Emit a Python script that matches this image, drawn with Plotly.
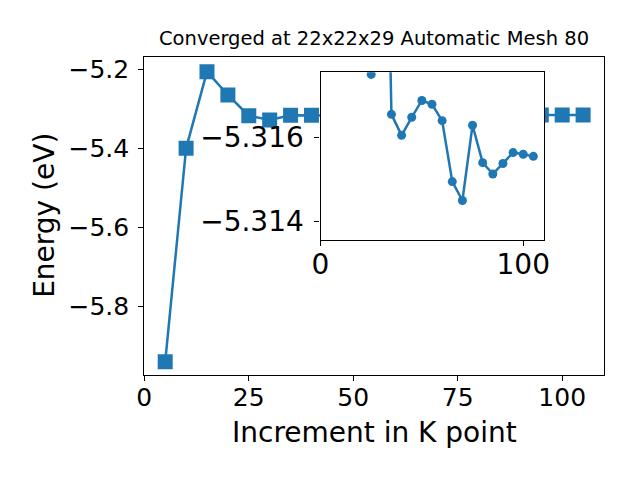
import plotly.graph_objects as go

# Main convergence data
kpoints = [5, 10, 15, 20, 25, 30, 35, 40, 45, 50, 55, 60, 65, 70, 75, 80, 85, 90, 95, 100, 105]
energy = [-5.9404, -5.4000, -5.2060, -5.2650, -5.3175, -5.3284, -5.31655, -5.31605,
          -5.31648, -5.31688, -5.31679, -5.31640, -5.31495, -5.31450, -5.31629,
          -5.31540, -5.31513, -5.31538, -5.31564, -5.31560, -5.31555]

main_xticks = [0, 25, 50, 75, 100]
main_yticks = [-5.2, -5.4, -5.6, -5.8]
inset_xticks = [0, 100]
inset_yticks = [-5.316, -5.314]

title_text = "Converged at 22x22x29 Automatic Mesh 80"
xlabel = "Increment in K point"
ylabel = "Energy (eV)"

C = "#1f77b4"
FONT = "DejaVu Sans"
W, H = 640, 480

def minus(v, fmt):
    return fmt.format(v).replace("-", "\u2212")

fig = go.Figure()
fig.add_trace(go.Scatter(x=kpoints, y=energy, mode="lines+markers",
                         line=dict(color=C, width=2.5),
                         marker=dict(symbol="square", size=15, color=C, line=dict(width=0)),
                         xaxis="x", yaxis="y", showlegend=False))
# inset: zoom on the converged tail (points far outside the window are omitted)
fig.add_trace(go.Scatter(x=kpoints[4:], y=energy[4:], mode="lines+markers",
                         line=dict(color=C, width=2.5),
                         marker=dict(symbol="circle", size=9, color=C, line=dict(width=0)),
                         xaxis="x2", yaxis="y2", showlegend=False))

# domains in pixels
mx0, mx1, my0, my1 = 144.3, 604.0, 56.7, 375.0
ix0, ix1, iy0, iy1 = 320.5, 544.3, 72.3, 240.0

def dx(a, b):
    return [a / W, b / W]

def dy(top, bot):
    return [(H - bot) / H, (H - top) / H]

def ax(size, standoff):
    return dict(showgrid=False, zeroline=False, showline=True, linecolor="black",
                linewidth=1.2, mirror=True, ticks="outside", ticklen=5, tickwidth=1.2,
                tickcolor="black", automargin=False, ticklabelstandoff=standoff,
                tickfont=dict(family=FONT, size=size, color="black"))

fig.update_layout(
    width=W, height=H, autosize=False,
    margin=dict(l=0, r=0, t=0, b=0),
    paper_bgcolor="white", plot_bgcolor="white",
    xaxis=dict(domain=dx(mx0, mx1), range=[0, 110], anchor="y",
               tickvals=main_xticks, ticktext=[str(v) for v in main_xticks], **ax(25, -5)),
    yaxis=dict(domain=dy(my0, my1), range=[-5.9737, -5.1681], anchor="x",
               tickvals=main_yticks, ticktext=[minus(v, "{:.1f}") for v in main_yticks], **ax(25, 4)),
    xaxis2=dict(domain=dx(ix0, ix1), range=[0, 110.4], anchor="y2",
                tickvals=inset_xticks, ticktext=[str(v) for v in inset_xticks], **ax(28, -6)),
    yaxis2=dict(domain=dy(iy0, iy1), range=[-5.31356, -5.31755], anchor="x2",
                tickvals=inset_yticks, ticktext=[minus(v, "{:.3f}") for v in inset_yticks], **ax(28, 5)),
)

fig.add_annotation(text=title_text, xref="paper", yref="paper",
                   x=(mx0 + mx1) / 2 / W, y=(H - 52) / H, xanchor="center", yanchor="bottom",
                   showarrow=False, font=dict(family=FONT, size=19.5, color="black"))
fig.add_annotation(text=xlabel, xref="paper", yref="paper",
                   x=(mx0 + mx1) / 2 / W, y=(H - 432) / H, xanchor="center", yanchor="middle",
                   showarrow=False, font=dict(family=FONT, size=28, color="black"))
fig.add_annotation(text=ylabel, xref="paper", yref="paper", textangle=-90,
                   x=45 / W, y=(H - (my0 + my1) / 2) / H, xanchor="center", yanchor="middle",
                   showarrow=False, font=dict(family=FONT, size=28, color="black"))

fig.write_html("out.html", config={"displayModeBar": False},
               post_script="document.body.style.margin='0';document.body.style.overflow='hidden';")
